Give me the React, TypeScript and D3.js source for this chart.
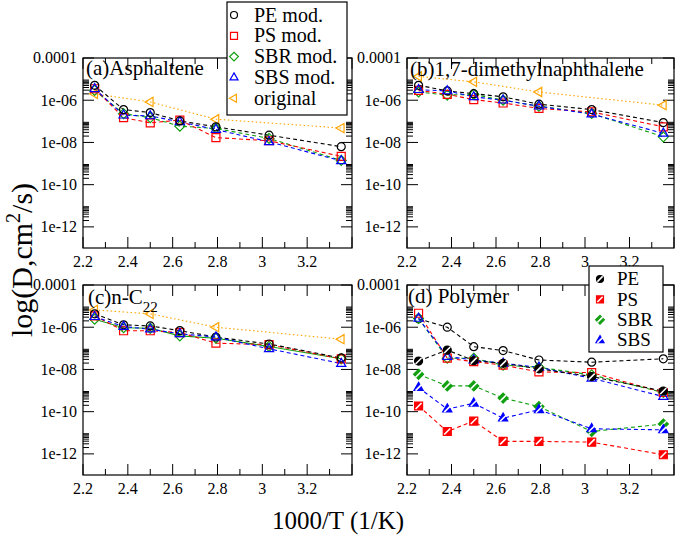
import React, { useRef, useEffect } from 'react';
import * as d3 from 'd3';

// 1000/T of the seven simulation temperatures
const invT = [2.252, 2.381, 2.5, 2.632, 2.793, 3.03, 3.352];
// the unmodified systems were only run at four of them
const invTOrig = [2.252, 2.5, 2.793, 3.352];

const xTicks = [2.2, 2.4, 2.6, 2.8, 3.0, 3.2, 3.4];
const xTickLabels = ['2.2', '2.4', '2.6', '2.8', '3', '3.2', ''];
const yTicks = [1e-4, 1e-6, 1e-8, 1e-10, 1e-12];
const yTickLabels = ['0.0001', '1e-06', '1e-08', '1e-10', '1e-12'];

// (a) asphaltene, D in cm^2/s
const asphPE = [5.1e-6, 3.6e-7, 2.6e-7, 1.05e-7, 5.5e-8, 2.2e-8, 6.3e-9];
const asphPS = [3.5e-6, 1.5e-7, 8.5e-8, 1.15e-7, 1.7e-8, 1.2e-8, 2.2e-9];
const asphSBR = [2.95e-6, 2.3e-7, 1.5e-7, 5.9e-8, 4.6e-8, 1.55e-8, 1.4e-9];
const asphSBS = [3.5e-6, 1.95e-7, 1.8e-7, 9.5e-8, 4.1e-8, 1.07e-8, 1.35e-9];
const asphOrig = [2.0e-6, 8.3e-7, 1.26e-7, 4.8e-8];

// (b) 1,7-dimethylnaphthalene
const dmnPE = [5.1e-6, 2.75e-6, 2.05e-6, 1.45e-6, 6.5e-7, 3.6e-7, 8.7e-8];
const dmnPS = [2.95e-6, 1.9e-6, 1.07e-6, 7.4e-7, 4.1e-7, 2.8e-7, 5.5e-8];
const dmnSBR = [2.45e-6, 1.75e-6, 1.9e-6, 1.0e-6, 5.2e-7, 2.35e-7, 1.85e-8];
const dmnSBS = [3.15e-6, 2.75e-6, 1.45e-6, 1.0e-6, 5.2e-7, 2.2e-7, 2.7e-8];
const dmnOrig = [1.35e-5, 7.4e-6, 2.45e-6, 5.8e-7];

// (c) n-C22
const c22PE = [4.3e-6, 1.3e-6, 1.15e-6, 6.9e-7, 3.4e-7, 1.6e-7, 3.5e-8];
const c22PS = [3.45e-6, 6.8e-7, 6.8e-7, 5.6e-7, 1.75e-7, 1.5e-7, 3.2e-8];
const c22SBR = [2.4e-6, 9.5e-7, 8.9e-7, 3.9e-7, 3.0e-7, 1.23e-7, 3.2e-8];
const c22SBS = [3.15e-6, 1.07e-6, 8.1e-7, 4.9e-7, 3.4e-7, 9.5e-8, 1.9e-8];
const c22Orig = [6.6e-6, 4.3e-6, 1.0e-6, 2.7e-7];

// (d) polymer chains, modified binder and pure polymer
const polyPEmod = [2.5e-6, 1.0e-6, 1.2e-7, 7.8e-8, 2.8e-8, 2.2e-8, 3.2e-8];
const polyPSmod = [4.6e-6, 3.4e-8, 2.35e-8, 1.6e-8, 7.6e-9, 7.1e-9, 8.1e-10];
const polySBRmod = [2.6e-6, 3.4e-8, 3.4e-8, 1.6e-8, 1.26e-8, 5.5e-9, 8.1e-10];
const polySBSmod = [2.6e-6, 4.1e-8, 2.8e-8, 1.95e-8, 1.26e-8, 3.8e-9, 5.2e-10];
const polyPE = [2.5e-8, 8.3e-8, 2.6e-8, 1.95e-8, 1.07e-8, 4.6e-9, 9.5e-10];
const polyPS = [1.86e-10, 1.15e-11, 3.6e-11, 3.9e-12, 3.9e-12, 3.6e-12, 9.1e-13];
const polySBR = [5.9e-9, 1.66e-9, 1.66e-9, 4.4e-10, 1.74e-10, 1.15e-11, 2.6e-11];
const polySBS = [1.38e-9, 1.32e-10, 2.5e-10, 4.9e-11, 1.23e-10, 1.55e-11, 1.38e-11];

const modLegend = ['PE mod.', 'PS mod.', 'SBR mod.', 'SBS mod.', 'original'];
const polyLegend = ['PE', 'PS', 'SBR', 'SBS'];

const BLACK = '#000000';
const RED = '#ff0000';
const GREEN = '#10a010';
const BLUE = '#0000ff';
const ORANGE = '#ffa500';
const FONT = 'Liberation Serif';

type Shape = 'circle' | 'square' | 'diamond' | 'triangle' | 'left';
type Fill = 'open' | 'hatch';

interface Series {
  xs: number[];
  ys: number[];
  color: string;
  shape: Shape;
  fill: Fill;
  dash: string;
}

interface Panel {
  left: number;
  top: number;
  right: number;
  bottom: number;
  series: Series[];
}

const shapePath = (shape: Shape, r: number): string => {
  switch (shape) {
    case 'square':
      return `M${-r},${-r}H${r}V${r}H${-r}Z`;
    case 'diamond':
      return `M0,${-r * 1.25}L${r * 1.25},0L0,${r * 1.25}L${-r * 1.25},0Z`;
    case 'triangle':
      return `M0,${-r * 1.3}L${r * 1.15},${r * 0.7}L${-r * 1.15},${r * 0.7}Z`;
    case 'left':
      return `M${-r * 1.3},0L${r * 0.7},${-r * 1.15}L${r * 0.7},${r * 1.15}Z`;
    default:
      return d3.arc()({ innerRadius: 0, outerRadius: r, startAngle: 0, endAngle: Math.PI * 2 }) || '';
  }
};

function drawMarker(
  g: d3.Selection<SVGGElement, unknown, null, undefined>,
  x: number, y: number, s: Series, r = 4
) {
  const m = g.append('g').attr('transform', `translate(${x},${y})`);
  m.append('path')
    .attr('d', shapePath(s.shape, r))
    .attr('fill', s.fill === 'hatch' ? s.color : 'none')
    .attr('stroke', s.color)
    .attr('stroke-width', 1.2);
  if (s.fill === 'hatch') {
    const k = r * 0.75;
    m.append('line')
      .attr('x1', -k).attr('y1', k).attr('x2', k).attr('y2', -k)
      .attr('stroke', '#fff').attr('stroke-width', 1.6);
  }
}

const mod = (xs: number[], ys: number[], color: string, shape: Shape, dash = '4,3'): Series =>
  ({ xs, ys, color, shape, fill: 'open', dash });

const panels: Panel[] = [
  {
    left: 83, top: 58, right: 352, bottom: 248,
    series: [
      mod(invTOrig, asphOrig, ORANGE, 'left', '1.5,2.5'),
      mod(invT, asphSBR, GREEN, 'diamond'),
      mod(invT, asphPS, RED, 'square'),
      mod(invT, asphSBS, BLUE, 'triangle'),
      mod(invT, asphPE, BLACK, 'circle'),
    ],
  },
  {
    left: 407, top: 58, right: 674, bottom: 248,
    series: [
      mod(invTOrig, dmnOrig, ORANGE, 'left', '1.5,2.5'),
      mod(invT, dmnSBR, GREEN, 'diamond'),
      mod(invT, dmnPS, RED, 'square'),
      mod(invT, dmnPE, BLACK, 'circle'),
      mod(invT, dmnSBS, BLUE, 'triangle'),
    ],
  },
  {
    left: 83, top: 285, right: 352, bottom: 475,
    series: [
      mod(invTOrig, c22Orig, ORANGE, 'left', '1.5,2.5'),
      mod(invT, c22SBR, GREEN, 'diamond', ''),
      mod(invT, c22PS, RED, 'square'),
      mod(invT, c22PE, BLACK, 'circle'),
      mod(invT, c22SBS, BLUE, 'triangle'),
    ],
  },
  {
    left: 407, top: 285, right: 674, bottom: 475,
    series: [
      mod(invT, polyPEmod, BLACK, 'circle'),
      mod(invT, polySBRmod, GREEN, 'diamond'),
      mod(invT, polyPSmod, RED, 'square'),
      mod(invT, polySBSmod, BLUE, 'triangle'),
      { xs: invT, ys: polySBR, color: GREEN, shape: 'diamond', fill: 'hatch', dash: '4,3' },
      { xs: invT, ys: polySBS, color: BLUE, shape: 'triangle', fill: 'hatch', dash: '4,3' },
      { xs: invT, ys: polyPS, color: RED, shape: 'square', fill: 'hatch', dash: '4,3' },
      { xs: invT, ys: polyPE, color: BLACK, shape: 'circle', fill: 'hatch', dash: '4,3' },
    ],
  },
];

const DiffusionChart: React.FC = () => {
  const svgRef = useRef<SVGSVGElement>(null);

  useEffect(() => {
    if (!svgRef.current) return;
    const svg = d3.select(svgRef.current);
    svg.selectAll('*').remove();

    svg.append('rect').attr('width', 677).attr('height', 535).attr('fill', '#fff');

    const minorY: number[] = [];
    [-12, -10, -8, -6].forEach(e => {
      for (let k = 2; k <= 9; k++) minorY.push(k * Math.pow(10, e));
    });
    const minorX = d3.range(2.3, 3.4, 0.2);

    panels.forEach(p => {
      const x = d3.scaleLinear().domain([2.2, 3.4]).range([p.left, p.right]);
      const y = d3.scaleLog().domain([1e-13, 1e-4]).range([p.bottom, p.top]);
      const g = svg.append('g') as d3.Selection<SVGGElement, unknown, null, undefined>;

      // ticks point inward on all four sides
      const ticks = g.append('g').attr('stroke', '#000').attr('stroke-width', 1);
      xTicks.forEach(v => {
        ticks.append('line').attr('x1', x(v)).attr('x2', x(v)).attr('y1', p.bottom).attr('y2', p.bottom - 11);
        ticks.append('line').attr('x1', x(v)).attr('x2', x(v)).attr('y1', p.top).attr('y2', p.top + 11);
      });
      minorX.forEach(v => {
        ticks.append('line').attr('x1', x(v)).attr('x2', x(v)).attr('y1', p.bottom).attr('y2', p.bottom - 6);
        ticks.append('line').attr('x1', x(v)).attr('x2', x(v)).attr('y1', p.top).attr('y2', p.top + 6);
      });
      yTicks.forEach(v => {
        ticks.append('line').attr('x1', p.left).attr('x2', p.left + 11).attr('y1', y(v)).attr('y2', y(v));
        ticks.append('line').attr('x1', p.right).attr('x2', p.right - 11).attr('y1', y(v)).attr('y2', y(v));
      });
      minorY.forEach(v => {
        ticks.append('line').attr('x1', p.left).attr('x2', p.left + 6).attr('y1', y(v)).attr('y2', y(v));
        ticks.append('line').attr('x1', p.right).attr('x2', p.right - 6).attr('y1', y(v)).attr('y2', y(v));
      });

      // tick labels
      xTicks.forEach((v, i) => {
        g.append('text')
          .attr('x', x(v)).attr('y', p.bottom + 19)
          .attr('text-anchor', 'middle')
          .attr('font-family', FONT).attr('font-size', 16)
          .text(xTickLabels[i]);
      });
      yTicks.forEach((v, i) => {
        g.append('text')
          .attr('x', p.left - 6).attr('y', y(v)).attr('dy', '0.33em')
          .attr('text-anchor', 'end')
          .attr('font-family', FONT).attr('font-size', 16)
          .text(yTickLabels[i]);
      });

      // series
      const marks = g.append('g') as d3.Selection<SVGGElement, unknown, null, undefined>;
      p.series.forEach(s => {
        const line = d3.line<number>()
          .x((_, i) => x(s.xs[i]))
          .y(d => y(d));
        marks.append('path')
          .attr('d', line(s.ys) || '')
          .attr('fill', 'none')
          .attr('stroke', s.color)
          .attr('stroke-width', 1.1)
          .attr('stroke-dasharray', s.dash || null);
      });
      p.series.forEach(s => {
        s.ys.forEach((v, i) => drawMarker(marks, x(s.xs[i]), y(v), s));
      });

      g.append('rect')
        .attr('x', p.left).attr('y', p.top)
        .attr('width', p.right - p.left).attr('height', p.bottom - p.top)
        .attr('fill', 'none').attr('stroke', '#000').attr('stroke-width', 1.2);
    });

    // panel titles
    const title = (tx: number, ty: number) =>
      svg.append('text')
        .attr('x', tx).attr('y', ty)
        .attr('font-family', FONT).attr('font-size', 21);
    title(86, 75).text('(a)Asphaltene');
    title(410, 76).text('(b)1,7-dimethylnaphthalene');
    const tc = title(88, 304);
    tc.append('tspan').text('(c)n-C');
    tc.append('tspan').attr('dy', 8).attr('font-size', 15).text('22');
    title(408, 303).text('(d) Polymer');

    // legend for the modified/original binder
    const legA = svg.append('g') as d3.Selection<SVGGElement, unknown, null, undefined>;
    legA.append('rect')
      .attr('x', 227).attr('y', 2).attr('width', 120).attr('height', 113)
      .attr('fill', '#fff').attr('stroke', '#000').attr('stroke-width', 1.2);
    const legAStyles: Series[] = [
      mod([], [], BLACK, 'circle'),
      mod([], [], RED, 'square'),
      mod([], [], GREEN, 'diamond'),
      mod([], [], BLUE, 'triangle'),
      mod([], [], ORANGE, 'left'),
    ];
    modLegend.forEach((t, i) => {
      const ly = 15 + i * 20.8;
      drawMarker(legA, 234, ly, legAStyles[i], 3.5);
      legA.append('text')
        .attr('x', 254).attr('y', ly).attr('dy', '0.33em')
        .attr('font-family', FONT).attr('font-size', 20)
        .text(t);
    });

    // legend for the pure polymer panel
    const legD = svg.append('g') as d3.Selection<SVGGElement, unknown, null, undefined>;
    legD.append('rect')
      .attr('x', 589).attr('y', 266).attr('width', 74).attr('height', 86)
      .attr('fill', '#fff').attr('stroke', '#000').attr('stroke-width', 1.2);
    const legDStyles: Series[] = [
      { xs: [], ys: [], color: BLACK, shape: 'circle', fill: 'hatch', dash: '' },
      { xs: [], ys: [], color: RED, shape: 'square', fill: 'hatch', dash: '' },
      { xs: [], ys: [], color: GREEN, shape: 'diamond', fill: 'hatch', dash: '' },
      { xs: [], ys: [], color: BLUE, shape: 'triangle', fill: 'hatch', dash: '' },
    ];
    polyLegend.forEach((t, i) => {
      const ly = 279 + i * 20.4;
      drawMarker(legD, 600, ly, legDStyles[i], 3.5);
      legD.append('text')
        .attr('x', 617).attr('y', ly).attr('dy', '0.33em')
        .attr('font-family', FONT).attr('font-size', 19)
        .text(t);
    });

    // axis titles
    svg.append('text')
      .attr('x', 338).attr('y', 529)
      .attr('text-anchor', 'middle')
      .attr('font-family', FONT).attr('font-size', 25)
      .text('1000/T (1/K)');
    const yl = svg.append('text')
      .attr('transform', 'translate(32,260) rotate(-90)')
      .attr('text-anchor', 'middle')
      .attr('font-family', FONT).attr('font-size', 30);
    yl.append('tspan').text('log(D,cm');
    yl.append('tspan').attr('dy', -12).attr('font-size', 20).text('2');
    yl.append('tspan').attr('dy', 12).text('/s)');
  }, []);

  return (
    <svg ref={svgRef} width={677} height={535}
      style={{ position: 'absolute', left: 0, top: 0 }} />
  );
};

export default function App() {
  return <DiffusionChart />;
}
